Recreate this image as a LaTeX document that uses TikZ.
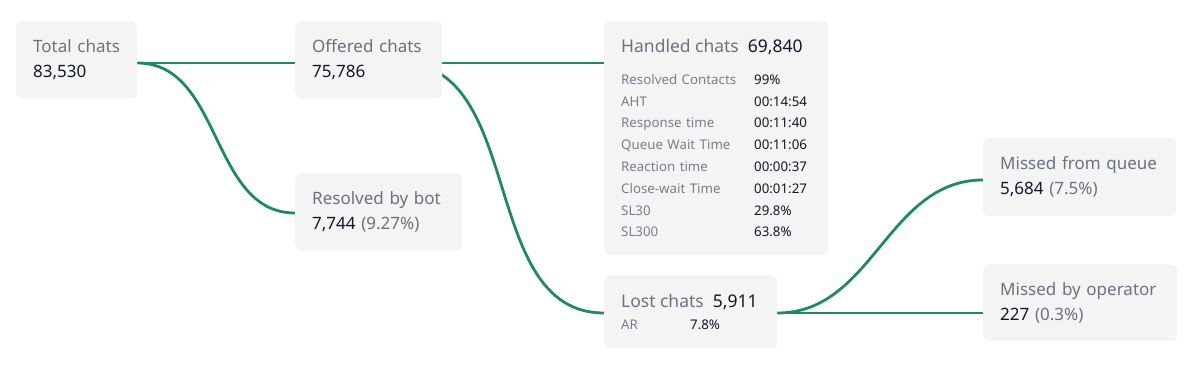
\documentclass[tikz,border=0pt]{standalone}
\usepackage{fontspec}
\setmainfont{Noto Sans}
\usetikzlibrary{backgrounds}
\definecolor{flowgreen}{RGB}{31,138,91}
\definecolor{boxfill}{RGB}{244,244,245}
\definecolor{labelgray}{RGB}{107,114,128}
\definecolor{rowgray}{RGB}{120,126,138}
\definecolor{valuedark}{RGB}{17,24,39}
\newcommand{\lbl}[1]{{\color{labelgray}#1}}
\newcommand{\rowfont}{\fontsize{13.3}{21.8}\selectfont}
\newcommand{\headfont}{\fontsize{17.5}{20}\selectfont}
\newcommand{\rl}[2]{\makebox[#1][l]{\color{rowgray}#2}}
\hyphenpenalty=10000
\begin{document}
\begin{tikzpicture}[x=1pt, y=-1pt,
  box/.style={fill=boxfill, rounded corners=6pt, anchor=north west, inner xsep=17pt, inner ysep=0pt,
    align=left, text=valuedark, font=\fontsize{17}{25}\selectfont},
  statbox/.style={box, font=\rowfont},
  flow/.style={draw=flowgreen, line width=2.8pt}
]
\useasboundingbox (0,0) rectangle (1194,366);

\node[box, text width=87pt,  minimum height=77pt] (total)    at (16,21)   {\lbl{Total chats}\\83,530};
\node[box, text width=113pt, minimum height=77pt] (offered)  at (295,21)  {\lbl{Offered chats}\\75,786};
\node[box, text width=133pt, minimum height=77pt] (resolved) at (295,173) {\lbl{Resolved by bot}\\7,744 \lbl{(9.27\%)}};
\node[statbox, text width=190pt, minimum height=234pt] (handled) at (604,21) {%
  {\headfont\lbl{Handled chats}\hspace{9pt}\textbf{69,840}}\\[10pt]
  \rl{133pt}{Resolved Contacts}99\%\\
  \rl{133pt}{AHT}00:14:54\\
  \rl{133pt}{Response time}00:11:40\\
  \rl{133pt}{Queue Wait Time}00:11:06\\
  \rl{133pt}{Reaction time}00:00:37\\
  \rl{133pt}{Close-wait Time}00:01:27\\
  \rl{133pt}{SL30}29.8\%\\
  \rl{133pt}{SL300}63.8\%};
\node[statbox, text width=139pt, minimum height=73pt] (lost) at (604,275) {%
  {\headfont\lbl{Lost chats}\hspace{9pt}\textbf{5,911}}\\[0pt]
  \rl{69pt}{AR}7.8\%};
\node[box, text width=159pt, minimum height=78pt] (queue)    at (983,138) {\lbl{Missed from queue}\\5,684 \lbl{(7.5\%)}};
\node[box, text width=160pt, minimum height=77pt] (operator) at (983,264) {\lbl{Missed by operator}\\227 \lbl{(0.3\%)}};

\begin{scope}[on background layer]
\draw[flow] ([yshift=-42pt]total.north east) -- ([yshift=-42pt]offered.north west);
\draw[flow] ([yshift=-42pt]total.north east) to[out=0,in=180] ([yshift=-40pt]resolved.north west);
\draw[flow] ([yshift=-42pt]offered.north east) -- ([yshift=-42pt]handled.north west);
\draw[flow] ([xshift=-42pt,yshift=-42pt]offered.north east) to[out=0,in=180] ([yshift=-38pt]lost.north west);
\draw[flow] ([yshift=-38pt]lost.north east) to[out=0,in=180] ([yshift=-42pt]queue.north west);
\draw[flow] ([yshift=-38pt]lost.north east) -- ([yshift=-49pt]operator.north west);
\end{scope}
\end{tikzpicture}
\end{document}
